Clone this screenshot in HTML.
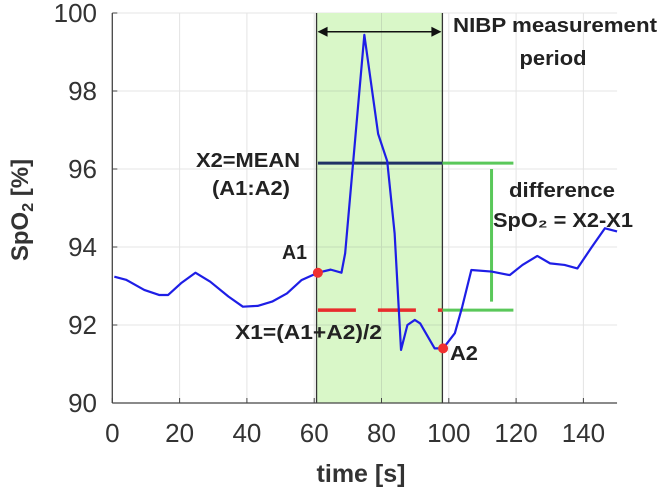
<!DOCTYPE html>
<html><head><meta charset="utf-8"><style>
html,body{margin:0;padding:0;background:#fff;}
svg{display:block;font-family:"Liberation Sans",Arial,sans-serif;}
</style></head><body>
<svg id="chart" width="661" height="492" viewBox="0 0 661 492" xmlns="http://www.w3.org/2000/svg">
<g id="grid"></g>
<rect id="shade" fill="#d9f7c8"/>
<g id="gridv"></g>
<g id="marks"></g>
<g id="axes"></g>
<g font-weight="bold" font-size="20" fill="#222">
<text x="453" y="32" textLength="204" lengthAdjust="spacingAndGlyphs">NIBP measurement</text>
<text x="553" y="65" text-anchor="middle" textLength="67" lengthAdjust="spacingAndGlyphs">period</text>
<text x="300" y="167" text-anchor="end" textLength="104" lengthAdjust="spacingAndGlyphs">X2=MEAN</text>
<text x="212" y="195" textLength="78" lengthAdjust="spacingAndGlyphs">(A1:A2)</text>
<text x="509" y="197" textLength="106" lengthAdjust="spacingAndGlyphs">difference</text>
<text x="493" y="227" textLength="140" lengthAdjust="spacingAndGlyphs">SpO₂ = X2-X1</text>
<text x="282" y="259" textLength="25" lengthAdjust="spacingAndGlyphs">A1</text>
<text x="235" y="339" textLength="147" lengthAdjust="spacingAndGlyphs">X1=(A1+A2)/2</text>
<text x="450" y="360" textLength="28" lengthAdjust="spacingAndGlyphs">A2</text>
</g>
<text x="361" y="482" text-anchor="middle" font-size="25" font-weight="bold" fill="#333">time [s]</text>
<text transform="translate(28,210) rotate(-90)" text-anchor="middle" font-size="24" font-weight="bold" fill="#333">SpO<tspan font-size="16" dy="5">2</tspan><tspan dy="-5"> [%]</tspan></text>
</svg>
<script>
const xTicks=[0,20,40,60,80,100,120,140];
const yTicks=[90,92,94,96,98,100];
const times=[0.6,4.1,9.5,13.9,16.6,20.4,24.7,29.1,34.5,38.8,43.2,47.5,51.9,56.2,61.1,64.9,68.1,69.2,74.9,79,81.7,83.9,85.8,87.7,89.9,91.5,95.8,98.3,101.8,104,106.7,112.7,118.1,121.9,126.3,130.1,134.4,138.2,142.5,146.4,150];
const spo2=[93.24,93.16,92.9,92.77,92.77,93.07,93.34,93.11,92.73,92.47,92.49,92.6,92.81,93.15,93.34,93.42,93.34,93.84,99.44,96.9,96.2,94.35,91.36,92.0,92.13,92.04,91.4,91.4,91.79,92.47,93.41,93.37,93.28,93.54,93.77,93.58,93.54,93.45,94.0,94.48,94.4];
const periodStart=60.7, periodEnd=98.1;
const a1=[61.1,93.34], a2=[98.3,91.4];
const x2=96.15, x1=92.38, greenEnd=119.2, diffX=112.7, diffTop=96.0, diffBottom=92.6;

const X0=112.3,XS=3.365,Y0=403,YS=39;
const sx=t=>X0+t*XS, sy=v=>Y0-(v-90)*YS;
const NS='http://www.w3.org/2000/svg';
function mk(tag,attrs,parent){const e=document.createElementNS(NS,tag);for(const k in attrs)e.setAttribute(k,attrs[k]);document.getElementById(parent).appendChild(e);return e;}

xTicks.forEach(t=>{if(t===0)return;const l=mk('line',{x1:sx(t),x2:sx(t),y1:sy(100),y2:sy(90),stroke:'#e4e4e4','stroke-width':1},'grid');

});
yTicks.forEach(v=>{if(v===90)return;const l=mk('line',{x1:sx(0),x2:sx(150),y1:sy(v),y2:sy(v),stroke:'#e4e4e4','stroke-width':1},'grid');

});
const sh=document.getElementById('shade');
sh.setAttribute('x',sx(periodStart));sh.setAttribute('width',sx(periodEnd)-sx(periodStart));
sh.setAttribute('y',sy(100));sh.setAttribute('height',sy(90)-sy(100));
xTicks.forEach(t=>{if(t>periodStart&&t<periodEnd){const l=mk('line',{x1:sx(t),x2:sx(t),y1:sy(100),y2:sy(90),stroke:'#c4dcb8','stroke-width':1},'gridv');

}});
yTicks.forEach(v=>{if(v===90||v===100)return;const l=mk('line',{x1:sx(periodStart),x2:sx(periodEnd),y1:sy(v),y2:sy(v),stroke:'#c4dcb8','stroke-width':1},'gridv');

});
[periodStart,periodEnd].forEach(t=>{const l=mk('line',{x1:sx(t),x2:sx(t),y1:sy(100),y2:sy(90),stroke:'#333','stroke-width':1.3},'marks');

});
const ay=31.7;
let e=mk('line',{x1:sx(periodStart)+2,x2:sx(periodEnd)-2,y1:ay,y2:ay,stroke:'#111','stroke-width':1.5},'marks');


e=mk('path',{d:`M${sx(periodStart)+1},${ay} l10,-5 v10 z M${sx(periodEnd)-1},${ay} l-10,-5 v10 z`,fill:'#111'},'marks');


e=mk('line',{x1:sx(a1[0]),x2:sx(periodEnd),y1:sy(x2),y2:sy(x2),stroke:'#1f3264','stroke-width':3},'marks');


e=mk('line',{x1:sx(periodEnd),x2:sx(greenEnd),y1:sy(x2),y2:sy(x2),stroke:'#5ac85a','stroke-width':3},'marks');


e=mk('line',{x1:sx(periodEnd),x2:sx(greenEnd),y1:sy(x1),y2:sy(x1),stroke:'#5ac85a','stroke-width':3},'marks');


e=mk('line',{x1:sx(diffX),x2:sx(diffX),y1:sy(diffTop),y2:sy(diffBottom),stroke:'#5ac85a','stroke-width':3},'marks');


e=mk('line',{x1:sx(a1[0]),x2:sx(periodEnd),y1:sy(x1),y2:sy(x1),stroke:'#e82c2c','stroke-width':3.5,'stroke-dasharray':'38 22'},'marks');


e=mk('polyline',{points:times.map((t,i)=>sx(t)+','+sy(spo2[i])).join(' '),fill:'none',stroke:'#1e1ee6','stroke-width':2.2,'stroke-linejoin':'round'},'marks');


e=mk('circle',{cx:sx(a1[0]),cy:sy(a1[1]),r:5,fill:'#f03030'},'marks');


e=mk('circle',{cx:sx(a2[0]),cy:sy(a2[1]),r:5,fill:'#f03030'},'marks');


e=mk('line',{x1:sx(0),x2:sx(150),y1:sy(90),y2:sy(90),stroke:'#444','stroke-width':1.3},'axes');


e=mk('line',{x1:sx(0),x2:sx(0),y1:sy(100),y2:sy(90),stroke:'#444','stroke-width':1.3},'axes');


xTicks.forEach(t=>{const l=mk('line',{x1:sx(t),x2:sx(t),y1:sy(90),y2:sy(90)-5,stroke:'#444'},'axes');


const tx=mk('text',{x:sx(t),y:442,'text-anchor':'middle','font-size':26,fill:'#333'},'axes');


tx.textContent=t;});
yTicks.forEach(v=>{const l=mk('line',{x1:sx(0),x2:sx(0)+5,y1:sy(v),y2:sy(v),stroke:'#444'},'axes');


const tx=mk('text',{x:97,y:sy(v)+9,'text-anchor':'end','font-size':26,fill:'#333'},'axes');


tx.textContent=v;});
</script>
</body></html>
